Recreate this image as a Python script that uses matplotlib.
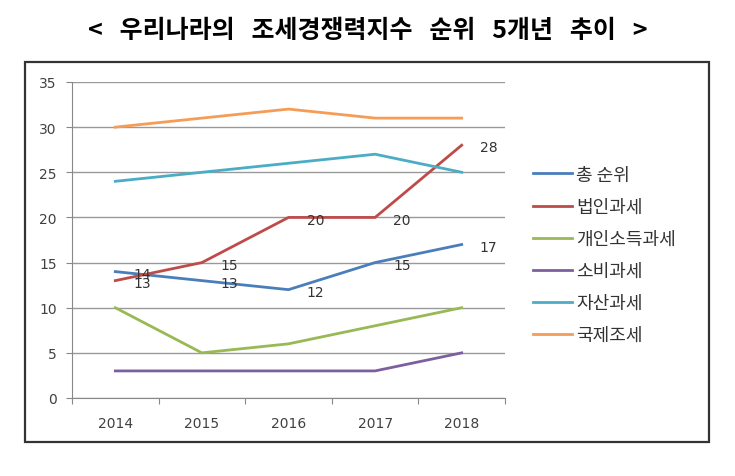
import matplotlib.pyplot as plt
from matplotlib.patches import Rectangle

plt.rcParams['font.family'] = ['Noto Sans CJK KR', 'DejaVu Sans']

years = ['2014', '2015', '2016', '2017', '2018']
series_names = ['총 순위', '법인과세', '개인소득과세', '소비과세', '자산과세', '국제조세']
total_rank = [14, 13, 12, 15, 17]
corporate = [13, 15, 20, 20, 28]
personal = [10, 5, 6, 8, 10]
consumption = [3, 3, 3, 3, 5]
property_tax = [24, 25, 26, 27, 25]
international = [30, 31, 32, 31, 31]

colors = ['#4A7EBB', '#BE4B48', '#98B954', '#7D5FA0', '#4BACC6', '#F59D56']
all_series = [total_rank, corporate, personal, consumption, property_tax, international]

fig = plt.figure(figsize=(7.35, 4.77), dpi=100)

# outer frame around the chart
fig.patches.append(Rectangle((25 / 735, 1 - 443 / 477), 684 / 735, 380 / 477,
                             transform=fig.transFigure, fill=False,
                             edgecolor='#333333', linewidth=1.6))

fig.text(0.5, 1 - 31 / 477, '<   우리나라의   조세경쟁력지수   순위   5개년   추이   >',
         ha='center', va='center', fontsize=18, fontweight='bold', color='black')

ax = fig.add_axes([72 / 735, 1 - 399 / 477, 433 / 735, 316 / 477])
x = list(range(len(years)))

for name, vals, c in zip(series_names, all_series, colors):
    ax.plot(x, vals, color=c, linewidth=2, label=name)

# data labels for 총 순위 and 법인과세
for vals in [total_rank, corporate]:
    for i, v in enumerate(vals):
        ax.annotate(str(v), (x[i], v), xytext=(13, -1.5), textcoords='offset points',
                    ha='left', va='center', fontsize=10, color='#333333',
                    family='DejaVu Sans')

ax.set_xlim(-0.5, 4.5)
ax.set_ylim(0, 35)
ax.set_yticks(range(0, 36, 5))
ax.set_xticks([i + 0.5 for i in range(-1, 5)], minor=False)
ax.set_xticklabels([''] * 6)
ax.set_xticks(x, minor=True)
ax.set_xticklabels(years, minor=True)
for lbl in ax.get_xticklabels(minor=True) + ax.get_yticklabels():
    lbl.set_family('DejaVu Sans')
ax.tick_params(axis='x', which='major', length=4, color='#888888')
ax.tick_params(axis='x', which='minor', length=0, pad=13, labelsize=10, labelcolor='#404040')
ax.tick_params(axis='y', length=4, pad=7, color='#888888', labelsize=10, labelcolor='#404040')
ax.grid(axis='y', color='#999999', linewidth=1)
ax.set_axisbelow(True)
for s in ['top', 'right']:
    ax.spines[s].set_visible(False)
ax.spines['left'].set_color('#888888')
ax.spines['bottom'].set_color('#888888')

ax.legend(loc='center left', bbox_to_anchor=(533 / 735, 1 - 256 / 477),
          bbox_transform=fig.transFigure, frameon=False, fontsize=13,
          borderpad=0, borderaxespad=0,
          handlelength=2.15, handletextpad=0.25, labelspacing=0.78, labelcolor='#333333')

fig.savefig('out.png', dpi=100)
